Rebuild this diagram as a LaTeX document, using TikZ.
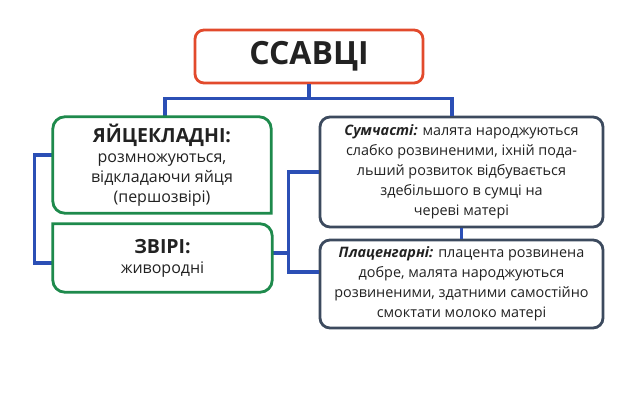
\documentclass[tikz,border=0pt]{standalone}
\usepackage{fontspec}
\setmainfont{Open Sans}
\usetikzlibrary{positioning}

\definecolor{titlered}{HTML}{E24A2C}
\definecolor{eggreen}{HTML}{1E8A4C}
\definecolor{linkblue}{HTML}{2B4FB5}
\definecolor{slatebox}{HTML}{3C4A5E}
\definecolor{inktext}{HTML}{222222}

\tikzset{
    link/.style={linkblue, line width=3.2pt},
    greenbox/.style={eggreen, line width=2.8pt},
    infobox/.style={draw=slatebox, line width=2.8pt, rounded corners=10pt,
        minimum width=283pt, inner sep=0pt, align=center, text=inktext,
        font=\fontsize{14.4}{20}\selectfont},
    plainbox/.style={inner sep=0pt, align=center, text=inktext,
        font=\fontsize{16}{20}\selectfont}
}

\begin{document}
\begin{tikzpicture}[x=1pt, y=-1pt]
    \useasboundingbox[fill=white] (0,0) rectangle (618,412);

    % головний заголовок
    \node[draw=titlered, line width=2.8pt, rounded corners=9pt,
          minimum width=228pt, minimum height=53pt, text=inktext,
          font=\fontsize{32}{32}\selectfont\bfseries] (ssavtsi) at (309,56.5) {ССАВЦІ};

    % зелені блоки (ліворуч)
    \node[plainbox, minimum width=218pt, minimum height=96pt] (egg) at (162,165)
        {{\fontsize{19.5}{23}\selectfont\bfseries ЯЙЦЕКЛАДНІ:}\\
         розмножуються,\\ відкладаючи яйця\\ (першозвірі)};
    \node[plainbox, minimum width=219pt, minimum height=68pt] (zviri) at (162.5,258)
        {{\fontsize{19.5}{23}\selectfont\bfseries ЗВІРІ:}\\ живородні};

    % сірі блоки (праворуч)
    \node[infobox, minimum height=110pt] (sumch) at (461.5,172)
        {{\bfseries\itshape Сумчасті:} малята народжуються\\
         слабко розвиненими, іхній пода-\\
         льший розвиток відбувається\\
         здебільшого в сумці на\\
         череві матері};
    \node[infobox, minimum height=88pt] (plac) at (461.5,284)
        {{\bfseries\itshape Плаценгарні:} плацента розвинена\\
         добре, малята народжуються\\
         розвиненими, здатними самостійно\\
         смоктати молоко матері};

    % з'єднання
    \draw[link] (ssavtsi.south) -- ++(0,14) coordinate (hub);
    \draw[link] (hub) -| ([xshift=3pt]egg.north);
    \draw[link] (hub) -| ([xshift=-9.5pt]sumch.north);
    \draw[link] ([yshift=10pt]egg.west) -- ++(-18,0) |- ([yshift=-5pt]zviri.west);
    \draw[link] ([yshift=5pt]zviri.east) -- ++(16,0) coordinate (rhub);
    \draw[link] (sumch.west) -| (rhub) |- ([yshift=12pt]plac.west);
    \draw[link] (sumch.south) -- (plac.north);

    % рамки зелених блоків поверх ліній
    \draw[greenbox, rounded corners=12pt] (egg.south east) -- (egg.south west)
        -- (egg.north west) -- (egg.north east) -- (egg.south east) [sharp corners] -- cycle;
    \draw[greenbox, rounded corners=12pt] (zviri.north west) -- (zviri.north east)
        -- (zviri.south east) -- (zviri.south west) [sharp corners] -- (zviri.north west) -- cycle;
\end{tikzpicture}
\end{document}
